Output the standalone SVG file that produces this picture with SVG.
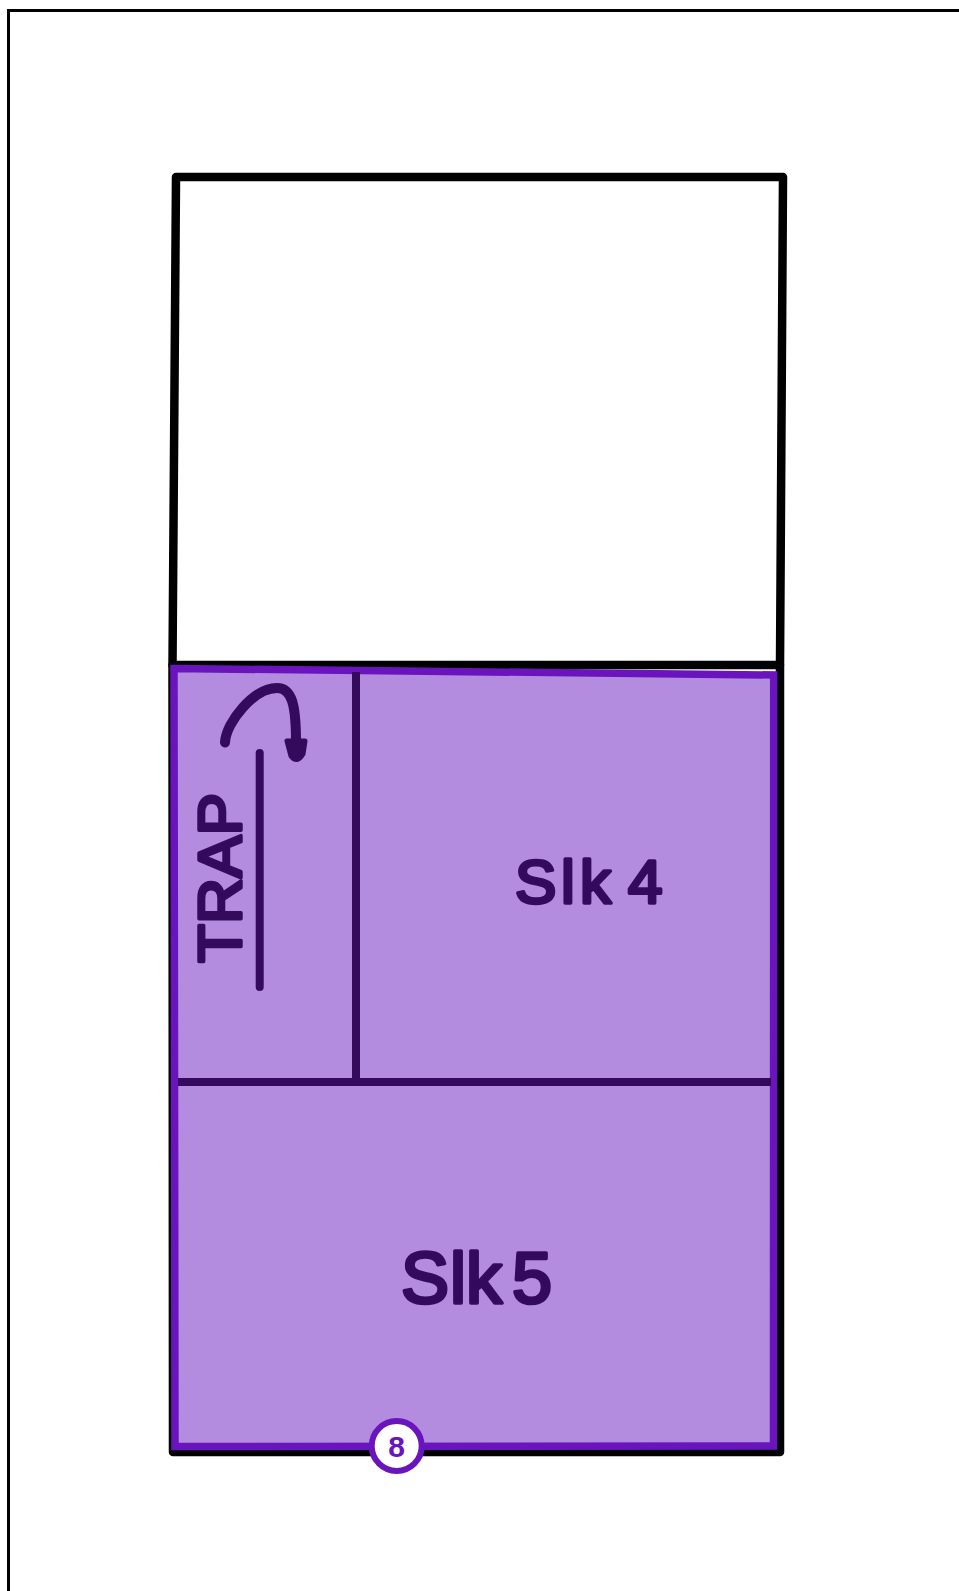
<svg xmlns="http://www.w3.org/2000/svg" width="959" height="1591" viewBox="0 0 959 1591">
<style>
.court{fill:none;stroke:#000;stroke-width:8.5;stroke-linejoin:round;stroke-linecap:round}
.ink{fill:none;stroke:#330A5C;stroke-width:8;stroke-linecap:round;stroke-linejoin:round}
.hand{font-family:"Liberation Sans",Arial,sans-serif;fill:#330A5C;stroke:#330A5C;stroke-width:3.5;stroke-linejoin:round}
</style>
<rect width="959" height="1591" fill="#fff"/>
<path id="frame" d="M8.5 1591V10.5H959" fill="none" stroke="#000" stroke-width="3"/>
<g id="court">
<path class="court" d="M176 177H783L780 665H172.5Z"/>
<path class="court" d="M172.5 665L173 1452H780V665"/>
</g>
<g id="zone">
<path d="M174 668.5L773.7 675L773.5 1446L175 1446.5Z" fill="#B38CDF" stroke="#6A14BE" stroke-width="7.5" stroke-linejoin="miter"/>
</g>
<g id="dividers">
<path d="M356 672V1082" fill="none" stroke="#330A5C" stroke-width="8"/>
<path d="M178 1082H771" fill="none" stroke="#330A5C" stroke-width="8"/>
</g>
<g id="trap">
<text class="hand" transform="translate(241 963) rotate(-90)" font-size="62" textLength="170" lengthAdjust="spacingAndGlyphs">TRAP</text>
<path class="ink" d="M259.7 753V987"/>
<path class="ink" style="stroke-width:10" d="M225 742.5C226 722 254 688 277 688C292 688 296 705 296 742"/>
<path d="M287 741L305 741L303 754Q297 764 291 756Z" fill="#330A5C" stroke="#330A5C" stroke-width="5" stroke-linejoin="round"/>
</g>
<g id="slk4">
<text class="hand" x="515 561 580 620 628" y="903" font-size="62">Slk 4</text>
</g>
<g id="slk5">
<text class="hand" x="401 450 466 505 512" y="1303" font-size="72">Slk 5</text>
</g>
<g id="badge">
<circle cx="396.7" cy="1446" r="25" fill="#fff" stroke="#6A14BE" stroke-width="6"/>
<text x="396.7" y="1457" text-anchor="middle" font-family="'Liberation Sans',Arial,sans-serif" font-weight="700" font-size="30" fill="#6A14BE">8</text>
</g>
</svg>
